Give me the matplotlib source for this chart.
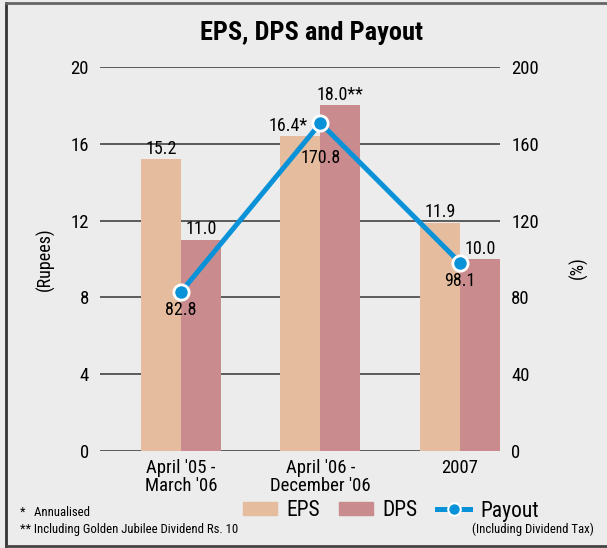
import numpy as np
import matplotlib.pyplot as plt
from matplotlib.lines import Line2D
from matplotlib.patches import Patch

plt.rcParams['font.family'] = ['Roboto Condensed', 'Liberation Sans Narrow', 'Roboto', 'DejaVu Sans']

periods = ["April '05 -\nMarch '06", "April '06 -\nDecember '06", "2007"]
eps = [15.2, 16.4, 11.9]
dps = [11.0, 18.0, 10.0]
payout = [82.8, 170.8, 98.1]
eps_labels = ['15.2', '16.4*', '11.9']
dps_labels = ['11.0', '18.0**', '10.0']
payout_labels = ['82.8', '170.8', '98.1']

bg = '#ececec'
c_eps = '#e5bd9e'
c_dps = '#c98b8e'
c_line = '#0a92d8'

fig = plt.figure(figsize=(6.07, 5.48), dpi=100, facecolor=bg)
ax = fig.add_axes([100/607, 1-451/548, 400/607, 384/548])
ax.set_facecolor(bg)
ax2 = ax.twinx()

x = np.arange(len(periods))
w = 0.287
ax.bar(x - w/2, eps, w, color=c_eps, zorder=2)
ax.bar(x + w/2, dps, w, color=c_dps, zorder=2)

ax.set_ylim(0, 20)
ax.set_yticks([0, 4, 8, 12, 16, 20])
ax.set_xlim(-0.58, 2.287)
ax.set_xticks(x)
ax.set_xticklabels(periods, fontsize=13, linespacing=1.0)
ax.yaxis.grid(True, color='#333333', linewidth=1.1, zorder=0)
ax.set_axisbelow(True)
for s in ax.spines.values():
    s.set_visible(False)
for s in ax2.spines.values():
    s.set_visible(False)
ax.tick_params(axis='both', length=0, labelsize=13.5, pad=8)
ax.tick_params(axis='x', pad=6)

ax2.set_ylim(0, 200)
ax2.set_yticks([0, 40, 80, 120, 160, 200])
ax2.tick_params(axis='y', length=0, labelsize=13.5, pad=8)
ax2.plot(x, payout, color=c_line, linewidth=3.6, marker='o', markersize=11,
         markerfacecolor=c_line, markeredgecolor='white', markeredgewidth=2, zorder=5)

for i in range(len(x)):
    dx = -9 if i == 1 else 0
    ax.annotate(eps_labels[i], (x[i] - w/2, eps[i]), xytext=(dx, 1), textcoords='offset points',
                ha='center', va='bottom', fontsize=13)
    ax.annotate(dps_labels[i], (x[i] + w/2, dps[i]), xytext=(0, 1), textcoords='offset points',
                ha='center', va='bottom', fontsize=13)
    dy = -25 if i == 1 else -13
    ax2.annotate(payout_labels[i], (x[i], payout[i]), xytext=(0, dy), textcoords='offset points',
                 ha='center', va='center', fontsize=13)

fig.text(312/607, 1-33/548, 'EPS, DPS and Payout', ha='center', va='center',
         fontsize=19, fontweight='bold')
fig.text(45/607, 1-259/548, '(Rupees)', rotation=90, ha='center', va='center', fontsize=13)
fig.text(578/607, 1-268/548, '(%)', rotation=90, ha='center', va='center', fontsize=13)

handles = [Patch(color=c_eps, label='EPS'), Patch(color=c_dps, label='DPS'),
           Line2D([], [], color=c_line, linewidth=3.6, marker='o', markersize=9,
                  markerfacecolor=c_line, markeredgecolor='white', markeredgewidth=1.5,
                  label='Payout')]
fig.legend(handles=handles, loc='center left', bbox_to_anchor=(224/607, 1-511/548),
           ncol=3, frameon=False, fontsize=15.5, handlelength=1.55, handleheight=0.55,
           handletextpad=0.45, columnspacing=0.9)
fig.text(472/607, 1-529/548, '(Including Dividend Tax)', ha='left', va='center', fontsize=9.2)
fig.text(20/607, 1-512/548, '*   Annualised', ha='left', va='center', fontsize=9.2)
fig.text(20/607, 1-530/548, '** Including Golden Jubilee Dividend Rs. 10', ha='left',
         va='center', fontsize=9.2)

# frame lines round the panel
fig.add_artist(Line2D([6/607, 6/607], [1-3/548, 1-546/548], color='#333333', linewidth=2))
fig.add_artist(Line2D([6/607, 1], [1-3/548, 1-3/548], color='#666666', linewidth=2))
fig.add_artist(Line2D([6/607, 1], [1-546/548, 1-546/548], color='#444444', linewidth=2))

fig.savefig('out.png', dpi=100, facecolor=bg)
